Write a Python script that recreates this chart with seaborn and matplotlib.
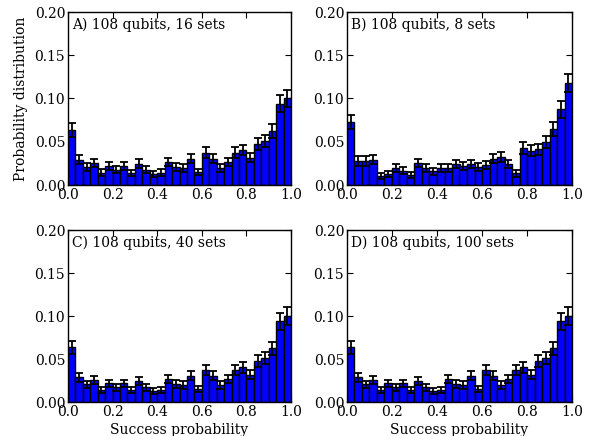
import numpy as np
import pandas as pd
import matplotlib
matplotlib.use("Agg")
import matplotlib.pyplot as plt
import seaborn as sns

# 30 equal-width bins of success probability on [0, 1]
n_bins = 30
bin_edges = np.linspace(0.0, 1.0, n_bins + 1)
bin_centers = 0.5 * (bin_edges[:-1] + bin_edges[1:])

panel_labels = ["A) 108 qubits, 16 sets", "B) 108 qubits, 8 sets",
                "C) 108 qubits, 40 sets", "D) 108 qubits, 100 sets"]

dist_16 = [0.0637, 0.0290, 0.0205, 0.0255, 0.0143, 0.0216, 0.0174, 0.0216,
           0.0135, 0.0247, 0.0174, 0.0124, 0.0143, 0.0266, 0.0208, 0.0197,
           0.0305, 0.0151, 0.0375, 0.0305, 0.0197, 0.0266, 0.0375, 0.0405,
           0.0317, 0.0475, 0.0510, 0.0625, 0.0938, 0.1000]
err_16 = [0.0078, 0.0052, 0.0044, 0.0049, 0.0037, 0.0045, 0.0041, 0.0045,
          0.0036, 0.0048, 0.0041, 0.0035, 0.0037, 0.0050, 0.0045, 0.0044,
          0.0054, 0.0038, 0.0060, 0.0054, 0.0044, 0.0050, 0.0060, 0.0062,
          0.0055, 0.0067, 0.0070, 0.0078, 0.0097, 0.0100]

dist_8 = [0.0730, 0.0278, 0.0278, 0.0293, 0.0108, 0.0131, 0.0197, 0.0166,
          0.0120, 0.0255, 0.0197, 0.0158, 0.0197, 0.0197, 0.0243, 0.0220,
          0.0243, 0.0212, 0.0228, 0.0305, 0.0324, 0.0243, 0.0135, 0.0429,
          0.0398, 0.0413, 0.0498, 0.0653, 0.0873, 0.1180]
err_8 = [0.0085, 0.0053, 0.0053, 0.0054, 0.0033, 0.0036, 0.0044, 0.0041,
         0.0035, 0.0050, 0.0044, 0.0040, 0.0044, 0.0044, 0.0049, 0.0047,
         0.0049, 0.0046, 0.0048, 0.0055, 0.0057, 0.0049, 0.0037, 0.0065,
         0.0063, 0.0064, 0.0071, 0.0081, 0.0093, 0.0109]

dist_40 = list(dist_16)
err_40 = list(err_16)
dist_100 = list(dist_16)
err_100 = list(err_16)

panel_values = [dist_16, dist_8, dist_40, dist_100]
panel_errors = [err_16, err_8, err_40, err_100]

x_ticks = [0.0, 0.2, 0.4, 0.6, 0.8, 1.0]
y_ticks = [0.00, 0.05, 0.10, 0.15, 0.20]

sns.set_style("ticks")
plt.rcParams.update({
    "font.family": ["DejaVu Serif"],
    "font.size": 10,
    "xtick.direction": "in",
    "ytick.direction": "in",
    "xtick.top": True,
    "ytick.right": True,
    "xtick.major.size": 4,
    "ytick.major.size": 4,
    "axes.linewidth": 1.0,
    "axes.edgecolor": "black",
    "xtick.color": "black",
    "ytick.color": "black",
    "text.color": "black",
    "axes.labelcolor": "black",
})

fig = plt.figure(figsize=(5.93, 4.36), dpi=100)
positions = [
    [68 / 593, 1 - 185 / 436, 223 / 593, 173 / 436],
    [347 / 593, 1 - 185 / 436, 225 / 593, 173 / 436],
    [68 / 593, 1 - 402 / 436, 223 / 593, 172 / 436],
    [347 / 593, 1 - 402 / 436, 225 / 593, 172 / 436],
]

for i, (pos, label, vals, errs) in enumerate(zip(positions, panel_labels,
                                                  panel_values, panel_errors)):
    ax = fig.add_axes(pos)
    df = pd.DataFrame({"p": bin_centers, "w": vals})
    sns.histplot(data=df, x="p", weights="w", bins=n_bins, binrange=(0, 1),
                 stat="count", color=(0, 0, 1), alpha=1.0, edgecolor="black",
                 linewidth=1.0, ax=ax)
    ax.errorbar(bin_centers, vals, yerr=errs, fmt="none", ecolor="black",
                elinewidth=1.3, capsize=2.6, capthick=1.3, zorder=5)
    ax.set_xlim(0, 1)
    ax.set_ylim(0, 0.2)
    ax.set_xticks(x_ticks)
    ax.set_yticks(y_ticks)
    ax.set_xticklabels([f"{t:.1f}" for t in x_ticks])
    ax.set_yticklabels([f"{t:.2f}" for t in y_ticks])
    ax.tick_params(labelsize=10, pad=2)
    ax.text(0.02, 0.965, label, transform=ax.transAxes, ha="left", va="top",
            fontsize=10)
    ax.set_ylabel("Probability distribution" if i == 0 else "", fontsize=10,
                  labelpad=5)
    ax.set_xlabel("Success probability" if i >= 2 else "", fontsize=10,
                  labelpad=3)
    for s in ax.spines.values():
        s.set_visible(True)

fig.savefig("out.png", dpi=100)
